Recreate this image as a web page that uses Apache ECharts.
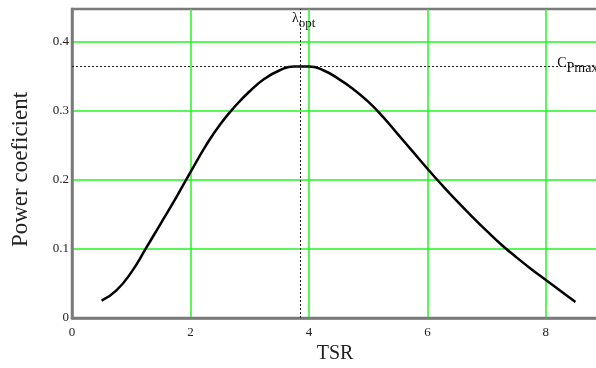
<!DOCTYPE html>
<html>
<head>
<meta charset="utf-8">
<script src="https://cdn.jsdelivr.net/npm/echarts@6/dist/echarts.min.js"></script>
<style>
  html, body { margin: 0; padding: 0; background: #fff; }
  #main { width: 596px; height: 368px; }
</style>
</head>
<body>
<div id="main"></div>
<script>
// tip speed ratio vs power coefficient, every 0.25
const tsr = [0.5, 0.75, 1.0, 1.25, 1.5, 1.75, 2.0, 2.25, 2.5, 2.75, 3.0, 3.25, 3.5, 3.75, 4.0, 4.25,
  4.5, 4.75, 5.0, 5.25, 5.5, 5.75, 6.0, 6.25, 6.5, 6.75, 7.0, 7.25, 7.5, 7.75, 8.0, 8.25, 8.5];
const cp = [0.025, 0.040, 0.066, 0.101, 0.137, 0.173, 0.211, 0.248, 0.280, 0.306, 0.328, 0.346, 0.358, 0.364, 0.364, 0.358,
  0.346, 0.331, 0.313, 0.291, 0.266, 0.241, 0.216, 0.192, 0.169, 0.147, 0.126, 0.106, 0.088, 0.071, 0.055, 0.039, 0.023];

const lambdaOpt = 3.86;
const cpMax = 0.3648;
const xMax = 8.88;
const yMax = 0.447;
const cpLabelX = 8.19;

const serif = "'Liberation Serif', 'DejaVu Serif', serif";
const gray = '#7a7a7a';
const green = '#22f522';

const chart = echarts.init(document.getElementById('main'));

const option = {
  backgroundColor: '#fff',
  animation: false,
  grid: {
    left: 72, right: -2, top: 9, bottom: 50,
    outerBoundsMode: 'none',
    containLabel: false,
    show: true, borderColor: gray, borderWidth: 2.5
  },
  xAxis: {
    type: 'value',
    min: 0, max: xMax, interval: 2,
    name: 'TSR',
    nameLocation: 'middle',
    nameGap: 24,
    nameTextStyle: { fontFamily: serif, fontSize: 20, color: '#222' },
    axisLine: { show: true, lineStyle: { color: gray, width: 2.5 } },
    axisTick: { show: false },
    axisLabel: { fontFamily: serif, fontSize: 13, color: '#222', margin: 8, showMaxLabel: false },
    splitLine: { showMinLine: false, showMaxLine: false, lineStyle: { color: green, width: 1.5 } }
  },
  yAxis: {
    type: 'value',
    min: 0, max: yMax, interval: 0.1,
    name: 'Power coeficient',
    nameLocation: 'middle',
    nameGap: 40,
    nameTextStyle: { fontFamily: serif, fontSize: 23, color: '#222', padding: [0, 12, 0, 0] },
    axisLine: { show: true, lineStyle: { color: gray, width: 2.5 } },
    axisTick: { show: false },
    axisLabel: {
      fontFamily: serif, fontSize: 13, color: '#222', margin: 3, showMaxLabel: false,
      formatter: v => String(+v.toFixed(1))
    },
    splitLine: { showMinLine: false, showMaxLine: false, lineStyle: { color: green, width: 1.5 } }
  },
  series: [{
    type: 'line',
    data: tsr.map((x, i) => [x, cp[i]]),
    smooth: true,
    showSymbol: false,
    lineStyle: { color: '#000', width: 2.5 },
    markLine: {
      silent: true,
      symbol: 'none',
      label: { show: false },
      lineStyle: { color: '#222', width: 1, type: [2, 2] },
      data: [
        [{ coord: [lambdaOpt, 0] }, { coord: [lambdaOpt, yMax] }],
        [{ coord: [0, cpMax] }, { coord: [xMax, cpMax] }]
      ]
    },
    markPoint: {
      silent: true,
      symbol: 'circle',
      symbolSize: 0,
      data: [
        {
          coord: [lambdaOpt, yMax],
          label: {
            show: true, position: 'bottom', distance: 2, offset: [3, 0],
            formatter: '{a|λ}{s|opt}',
            rich: {
              a: { fontFamily: serif, fontSize: 14, color: '#111', verticalAlign: 'top' },
              s: { fontFamily: serif, fontSize: 13, color: '#111', verticalAlign: 'top', padding: [6, 0, 0, 0] }
            }
          }
        },
        {
          coord: [cpLabelX, cpMax],
          label: {
            show: true, position: 'right', distance: 0,
            formatter: '{a|C}{s|Pmax}',
            rich: {
              a: { fontFamily: serif, fontSize: 14, color: '#111', verticalAlign: 'top' },
              s: { fontFamily: serif, fontSize: 14, color: '#111', verticalAlign: 'top', padding: [5, 0, 0, 0] }
            }
          }
        }
      ]
    }
  }]
};

chart.setOption(option);
</script>
</body>
</html>
